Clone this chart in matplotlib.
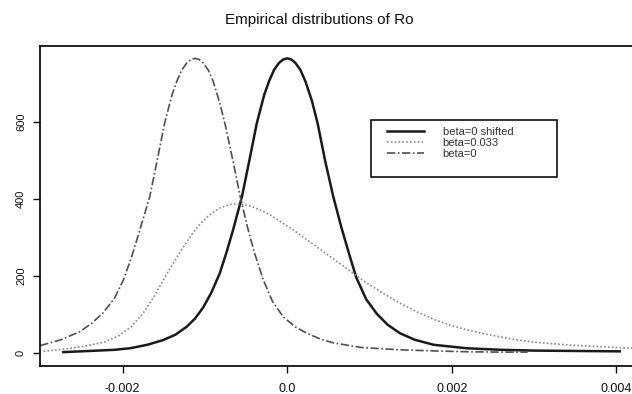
import matplotlib
matplotlib.use("Agg")
import matplotlib.pyplot as plt
from matplotlib.patches import Rectangle

plt.rcParams['font.family'] = ['Liberation Sans', 'DejaVu Sans']

# --- densidades lidas (x = Ro, y = densidade) ---
# beta=0 deslocado
shift_x = [-0.00272, -0.00240, -0.00210, -0.00191, -0.00170, -0.00151, -0.00136,
           -0.00122, -0.00112, -0.00102, -0.00092, -0.00082, -0.00074, -0.00066,
           -0.00055, -0.00046, -0.00037, -0.00028, -0.00022, -0.00016, -0.00010,
           -0.00005, 0.00000, 0.00005, 0.00010, 0.00016, 0.00022, 0.00030, 0.00037,
           0.00046, 0.00056, 0.00066, 0.00076, 0.00084, 0.00096, 0.00109, 0.00122,
           0.00137, 0.00155, 0.00178, 0.00218, 0.00260, 0.00299, 0.00350, 0.00404]
shift_y = [3, 6, 9, 13, 22, 34, 48, 69, 90, 119, 158, 207, 260, 318, 406, 500, 596,
           670, 706, 735, 753, 762, 765, 762, 753, 735, 706, 655, 596, 500, 406, 325,
           252, 196, 140, 102, 74, 52, 35, 22, 13, 9, 7, 6, 5]

# beta=0.033
b033_x = [-0.00296, -0.00270, -0.00245, -0.00222, -0.00205, -0.00190, -0.00175,
          -0.00161, -0.00147, -0.00136, -0.00126, -0.00116, -0.00106, -0.00095,
          -0.00082, -0.00068, -0.00055, -0.00045, -0.00033, -0.00020, -0.00005,
          0.00010, 0.00036, 0.00056, 0.00072, 0.00096, 0.00117, 0.00137, 0.00158,
          0.00178, 0.00198, 0.00218, 0.00238, 0.00258, 0.00278, 0.00299, 0.00339,
          0.00380, 0.00420, 0.00450]
b033_y = [5, 11, 19, 29, 45, 68, 104, 150, 203, 242, 276, 308, 335, 358, 377, 387,
          386, 382, 372, 358, 337, 316, 276, 245, 220, 183, 155, 130, 107, 88, 73,
          61, 51, 43, 35, 29, 22, 17, 13, 11]

# beta=0
b0_x = [-0.00300, -0.00275, -0.00252, -0.00238, -0.00224, -0.00210, -0.00199,
        -0.00189, -0.00179, -0.00167, -0.00158, -0.00149, -0.00140, -0.00134,
        -0.00128, -0.00122, -0.00117, -0.00112, -0.00107, -0.00102, -0.00096,
        -0.00090, -0.00082, -0.00075, -0.00066, -0.00057, -0.00048, -0.00040,
        -0.00029, -0.00018, -0.00005, 0.00010, 0.00024, 0.00040, 0.00056, 0.00090,
        0.00137, 0.00180, 0.00218, 0.00260, 0.00292]
b0_y = [20, 35, 56, 77, 104, 142, 190, 250, 320, 406, 500, 596, 670, 706, 735, 753,
        762, 765, 762, 753, 735, 706, 650, 590, 500, 406, 325, 262, 190, 135, 95, 68,
        52, 37, 27, 15, 9, 6, 4, 3, 3]

y_ticks = [0, 200, 400, 600]
x_ticks = [-0.002, 0.0, 0.002, 0.004]
x_labels = ["-0.002", "0.0", "0.002", "0.004"]

fig = plt.figure(figsize=(6.32, 3.94), dpi=100)
ax = fig.add_axes([40 / 632, 1 - 366 / 394, 602 / 632, 320 / 394])

l1, = ax.plot(shift_x, shift_y, color='#1a1a1a', lw=1.8, linestyle='-')
l2, = ax.plot(b033_x, b033_y, color='#8a8a8a', lw=1.2, linestyle=(0, (1, 1.3)))
l3, = ax.plot(b0_x, b0_y, color='#505050', lw=1.2, linestyle=(0, (5, 1.5, 1, 1.5)))

ax.set_xlim(-0.003003, 0.00431)
ax.set_ylim(-33, 797)

ax.set_yticks(y_ticks)
ax.set_yticklabels([str(v) for v in y_ticks], rotation=90, va='center')
ax.set_xticks(x_ticks)
ax.set_xticklabels(x_labels)
ax.tick_params(direction='out', length=5, width=1, pad=5, colors='#111111')
ax.tick_params(axis='x', labelsize=9, pad=7)
ax.tick_params(axis='y', labelsize=8)
for s in ax.spines.values():
    s.set_linewidth(1.3)
    s.set_color('#111111')

fig.text(0.505, 1 - 20 / 394, "Empirical distributions of Ro", ha='center', va='center',
         fontsize=11, color='#111111')

# caixa da legenda desenhada à parte
fig.patches.append(Rectangle((371 / 632, 1 - 177 / 394), 186 / 632, 57 / 394,
                             transform=fig.transFigure, fill=False, edgecolor='#111111', lw=1.2))
leg = fig.legend([l1, l2, l3], ["beta=0 shifted", "beta=0.033", "beta=0"],
                 loc='upper left', bbox_to_anchor=(387 / 632, 1 - 127 / 394),
                 frameon=False, fontsize=8, handlelength=3.3, labelspacing=0.1,
                 handletextpad=1.7, borderpad=0, borderaxespad=0)
for t in leg.get_texts():
    t.set_color('#333333')

fig.savefig("out.png", dpi=100)
